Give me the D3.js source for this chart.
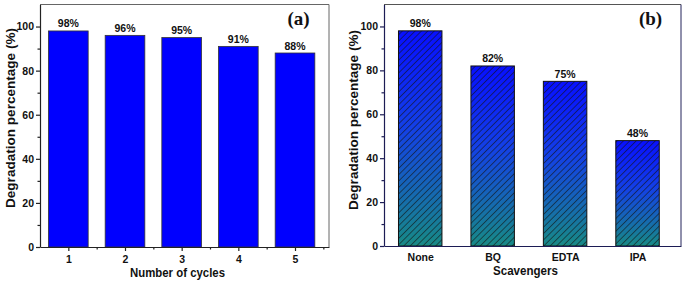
<!DOCTYPE html>
<html>
  <head>
    <title>Degradation bars</title>
    <script src="https://d3js.org/d3.v7.min.js"></script>
    <style>
      body { margin: 0; background: #fff; }
      text { font-family: "Liberation Sans", Arial, sans-serif; font-weight: bold; fill: #111; }
    </style>
  </head>
  <body>
    <svg id="plot" width="685" height="283"></svg>

    <script>
      // data
      const cycles = [1, 2, 3, 4, 5];
      const cycleValues = [98, 96, 95, 91, 88];
      const scavengers = ["None", "BQ", "EDTA", "IPA"];
      const scavengerValues = [98, 82, 75, 48];
      const yTicks = [0, 20, 40, 60, 80, 100];
      const yMinor = [10, 30, 50, 70, 90];

      const svg = d3.select("#plot");
      const defs = svg.append("defs");

      const grad = defs.append("linearGradient")
        .attr("id", "barGrad")
        .attr("x1", 0).attr("y1", 0).attr("x2", 0).attr("y2", 1);
      grad.append("stop").attr("offset", "0%").attr("stop-color", "#0810ff");
      grad.append("stop").attr("offset", "45%").attr("stop-color", "#1440e6");
      grad.append("stop").attr("offset", "100%").attr("stop-color", "#178a86");

      const hatch = defs.append("pattern")
        .attr("id", "hatch")
        .attr("patternUnits", "userSpaceOnUse")
        .attr("width", 4.5).attr("height", 4.5)
        .attr("patternTransform", "rotate(45)");
      hatch.append("line")
        .attr("x1", 0).attr("y1", 0).attr("x2", 0).attr("y2", 4.5)
        .attr("stroke", "#111").attr("stroke-width", 1.1);

      // ---------- panel (a) ----------
      var xa = d3.scaleLinear().domain([0.5, 5.6]).range([40, 329]);
      var ya = d3.scaleLinear().domain([0, 110]).range([247, 4.5]);
      var ga = svg.append("g");
      var bwA = (xa(2) - xa(1)) * 0.7;

      ga.selectAll("rect.bar")
        .data(cycleValues)
        .join("rect")
        .attr("class", "bar")
        .attr("x", (d, i) => xa(cycles[i]) - bwA / 2)
        .attr("y", (d) => ya(d))
        .attr("width", bwA)
        .attr("height", (d) => ya(0) - ya(d))
        .attr("fill", "#0000ff")
        .attr("stroke", "#333")
        .attr("stroke-width", 0.8);

      ga.selectAll("text.val")
        .data(cycleValues)
        .join("text")
        .attr("class", "val")
        .attr("x", (d, i) => xa(cycles[i]))
        .attr("y", (d) => ya(d) - 3.5)
        .attr("text-anchor", "middle")
        .style("font-size", "10.5px")
        .text((d) => d + "%");

      // frame
      ga.append("line").attr("x1", 40).attr("x2", 329).attr("y1", 4.5).attr("y2", 4.5).attr("stroke", "#666");
      ga.append("line").attr("x1", 329).attr("x2", 329).attr("y1", 4.5).attr("y2", 247).attr("stroke", "#666");

      ga.append("g").attr("transform", "translate(40,0)")
        .call(d3.axisLeft(ya).tickValues(yTicks).tickSize(4).tickSizeOuter(0).tickPadding(2));
      ga.append("g").attr("transform", "translate(40,0)")
        .call(d3.axisLeft(ya).tickValues(yMinor).tickSize(2.5).tickSizeOuter(0).tickFormat(""))
        .select(".domain").remove();
      ga.append("g").attr("transform", "translate(0,247)")
        .call(d3.axisBottom(xa).tickValues(cycles).tickSize(4).tickSizeOuter(0).tickPadding(5).tickFormat(d3.format("d")));
      ga.append("g").attr("transform", "translate(0,247)")
        .call(d3.axisBottom(xa).tickValues([1.5, 2.5, 3.5, 4.5, 5.5]).tickSize(2.5).tickSizeOuter(0).tickFormat(""))
        .select(".domain").remove();

      ga.append("text")
        .attr("x", 177.5).attr("y", 277)
        .attr("text-anchor", "middle")
        .attr("textLength", 95).attr("lengthAdjust", "spacingAndGlyphs")
        .style("font-size", "13.5px")
        .text("Number of cycles");
      ga.append("text")
        .attr("transform", "translate(15,118) rotate(-90)")
        .attr("text-anchor", "middle")
        .attr("textLength", 180).attr("lengthAdjust", "spacingAndGlyphs")
        .style("font-size", "13.5px")
        .text("Degradation percentage (%)");
      ga.append("text")
        .attr("x", 298.5).attr("y", 25)
        .attr("text-anchor", "middle")
        .style("font-family", "'Liberation Serif', 'Times New Roman', serif")
        .style("font-size", "19px")
        .text("(a)");

      // ---------- panel (b) ----------
      var xb = d3.scaleLinear().domain([0.5, 4.6]).range([384, 681]);
      var yb = d3.scaleLinear().domain([0, 110]).range([246, 4.5]);
      var gb = svg.append("g");
      var bwB = (xb(2) - xb(1)) * 0.6;

      var barsB = gb.selectAll("g.bar")
        .data(scavengerValues)
        .join("g")
        .attr("class", "bar");
      barsB.append("rect")
        .attr("x", (d, i) => xb(i + 1) - bwB / 2)
        .attr("y", (d) => yb(d))
        .attr("width", bwB)
        .attr("height", (d) => yb(0) - yb(d))
        .attr("fill", "url(#barGrad)");
      barsB.append("rect")
        .attr("x", (d, i) => xb(i + 1) - bwB / 2)
        .attr("y", (d) => yb(d))
        .attr("width", bwB)
        .attr("height", (d) => yb(0) - yb(d))
        .attr("fill", "url(#hatch)")
        .attr("stroke", "#111")
        .attr("stroke-width", 1);

      gb.selectAll("text.val")
        .data(scavengerValues)
        .join("text")
        .attr("class", "val")
        .attr("x", (d, i) => xb(i + 1))
        .attr("y", (d) => yb(d) - 3.5)
        .attr("text-anchor", "middle")
        .style("font-size", "10.5px")
        .text((d) => d + "%");

      gb.append("line").attr("x1", 384).attr("x2", 681).attr("y1", 4.5).attr("y2", 4.5).attr("stroke", "#555");
      gb.append("line").attr("x1", 681).attr("x2", 681).attr("y1", 4.5).attr("y2", 246).attr("stroke", "#22225a");

      gb.append("g").attr("transform", "translate(384,0)")
        .call(d3.axisLeft(yb).tickValues(yTicks).tickSize(4).tickSizeOuter(0).tickPadding(2));
      gb.append("g").attr("transform", "translate(384,0)")
        .call(d3.axisLeft(yb).tickValues(yMinor).tickSize(2.5).tickSizeOuter(0).tickFormat(""))
        .select(".domain").remove();
      gb.append("g").attr("transform", "translate(0,246)")
        .call(d3.axisBottom(xb).tickValues([1, 2, 3, 4]).tickSize(0).tickSizeOuter(0).tickPadding(8)
          .tickFormat((d) => scavengers[d - 1]));

      gb.append("text")
        .attr("x", 525.5).attr("y", 275)
        .attr("text-anchor", "middle")
        .attr("textLength", 65).attr("lengthAdjust", "spacingAndGlyphs")
        .style("font-size", "13.5px")
        .text("Scavengers");
      gb.append("text")
        .attr("transform", "translate(358,120) rotate(-90)")
        .attr("text-anchor", "middle")
        .attr("textLength", 180).attr("lengthAdjust", "spacingAndGlyphs")
        .style("font-size", "13.5px")
        .text("Degradation percentage (%)");
      gb.append("text")
        .attr("x", 650.5).attr("y", 25)
        .attr("text-anchor", "middle")
        .style("font-family", "'Liberation Serif', 'Times New Roman', serif")
        .style("font-size", "19px")
        .text("(b)");

      // axis styling
      svg.selectAll(".tick text").style("font-size", "10.5px").style("font-weight", "bold").attr("fill", "#111");
      ga.selectAll(".domain, .tick line").attr("stroke", "#222").attr("stroke-width", 1.2);
      gb.selectAll(".domain, .tick line").attr("stroke", "#1c1c55").attr("stroke-width", 1.2);
    </script>
  </body>
</html>
